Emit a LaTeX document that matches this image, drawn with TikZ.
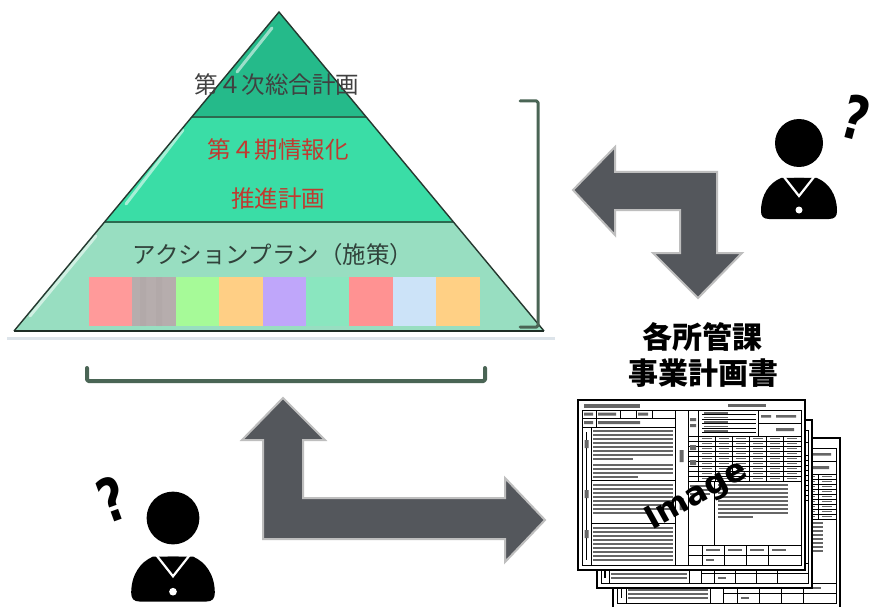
\documentclass[tikz,border=0pt]{standalone}
\usepackage{fontspec}
\usepackage{graphicx}
\newfontfamily\jp{Noto Sans CJK JP}
\newfontfamily\dejab{DejaVu Sans Bold}

\definecolor{pyrtop}{HTML}{25BA8A}
\definecolor{pyrmid}{HTML}{3ADDA6}
\definecolor{pyrbot}{HTML}{98DEC1}
\definecolor{pyredge}{HTML}{25382F}
\definecolor{pyrdiv}{HTML}{2C6A50}
\definecolor{planred}{HTML}{C03A30}
\definecolor{plantxt}{HTML}{31423B}
\definecolor{brk}{HTML}{4A6555}
\definecolor{arrowfill}{HTML}{54575C}
\definecolor{arrowrim}{HTML}{BEBEBE}
\definecolor{underln}{HTML}{DDE4EA}
\definecolor{sqA}{HTML}{FF9A9A}
\definecolor{sqB}{HTML}{B6ADAD}
\definecolor{sqC}{HTML}{A6FA98}
\definecolor{sqD}{HTML}{FFCF85}
\definecolor{sqE}{HTML}{BFA6FA}
\definecolor{sqF}{HTML}{8AE6BF}
\definecolor{sqG}{HTML}{FF9292}
\definecolor{sqH}{HTML}{CCE3F8}
\definecolor{sqI}{HTML}{FFD085}

\tikzset{
  layerlabel/.style={font=\jp\fontsize{23.5}{26}\selectfont, inner sep=0pt},
  deptlabel/.style={font=\jp\bfseries\fontsize{30}{32}\selectfont, inner sep=0pt},
  qmark/.style={font=\dejab\fontsize{60}{60}\selectfont, inner sep=0pt},
  arrowblk/.style={fill=arrowfill, draw=arrowrim, line width=2pt, line join=miter},
  bracketln/.style={draw=brk, line cap=round, line join=round, rounded corners=1.5pt},
  gloss/.style={draw=white, opacity=0.55, line width=3pt, line cap=round},
  gridln/.style={draw=black, line width=0.5pt},
  txtbar/.style={fill=black!60},
  % silhouette of a person: head centred on the pic origin
  pics/person/.style={code={
    \fill[black] (0,0) circle[radius=24];
    \fill[black] (-30,76) -- (30,76) .. controls (36,76) and (38,73) .. (38,68)
      .. controls (38,52) and (30,40) .. (18,35) -- (-18,35)
      .. controls (-30,40) and (-38,52) .. (-38,68)
      .. controls (-38,73) and (-36,76) .. (-30,76) -- cycle;
    \draw[white, line width=2.2pt] (-15,34) -- (0,53) -- (15,34);
    \fill[black] (-5,35) -- (5,35) -- (5,44) -- (0,49) -- (-5,44) -- cycle;
    \fill[white] (0,67) circle[radius=3.5];
  }},
  % one sheet of the plan form, origin at its top-left corner
  pics/formpage/.style={code={
    \fill[white] (0,0) rectangle (227,170);
    \fill[txtbar] (6,3.5) rectangle (62,7.5);
    \fill[txtbar] (150,4) rectangle (188,7);
    \draw[gridln] (4,10) rectangle (223,165);
    \draw[gridln] (97,10) -- (97,165) (110,10) -- (110,165);
    % left header cells
    \draw[gridln] (4,18) -- (97,18) (4,27) -- (97,27) (18,10) -- (18,27)
      (42,10) -- (42,18) (58,10) -- (58,18) (74,10) -- (74,18);
    \fill[txtbar] (6,12.5) rectangle (15,15.5) (20,12.5) rectangle (38,15.5)
      (60,12.5) rectangle (70,15.5) (6,21) rectangle (15,24) (20,21) rectangle (62,24);
    % left text column
    \draw[gridln] (13,27) -- (13,165) (13,80) -- (97,80) (13,123) -- (97,123);
    \draw[line width=1.2pt] (8.5,32) -- (8.5,160);
    \fill[txtbar] (6.5,40) rectangle (10.5,48) (6.5,90) rectangle (10.5,98) (6.5,130) rectangle (10.5,138);
    \foreach \y in {30,34,...,54} \fill[txtbar] (15,\y) rectangle (95,\y+2);
    \fill[txtbar] (15,58) rectangle (55,60);
    \foreach \y in {64,68,72} \fill[txtbar] (15,\y) rectangle (95,\y+2);
    \fill[txtbar] (15,76) rectangle (60,78);
    \foreach \y in {84,88,...,108} \fill[txtbar] (15,\y) rectangle (95,\y+2);
    \fill[txtbar] (15,112) rectangle (70,114);
    \foreach \y in {127,131,...,159} \fill[txtbar] (15,\y) rectangle (95,\y+2);
    % middle narrow column
    \fill[txtbar] (101.5,50) rectangle (105.5,62) (101.5,98) rectangle (105.5,110);
    % right header
    \draw[gridln] (120,10) -- (120,36) (180,10) -- (180,36) (180,23) -- (223,23);
    \foreach \y in {14.5,19,23.5,28,32.5} \draw[gridln] (124,\y) -- (178,\y);
    \foreach \y in {12,16.5,21,25.5,30} \fill[txtbar] (126,\y) rectangle (150,\y+1.6);
    \fill[txtbar] (112,18) rectangle (118,21) (112,24) rectangle (118,27)
      (183,15) rectangle (193,17.5) (198,15) rectangle (218,17.5) (198,28) rectangle (216,31);
    % right grid
    \foreach \y in {36,41,...,81} \draw[gridln] (110,\y) -- (223,\y);
    \foreach \x in {120,137,154,171,188,205} \draw[gridln] (\x,36) -- (\x,81);
    \foreach \x in {120,137,154,171,188,205}
      \foreach \y in {37.8,42.8,...,77.8} \fill[txtbar] (\x+4,\y) rectangle (\x+14,\y+1.5);
    \fill[txtbar] (112,45) rectangle (118,50) (112,60) rectangle (118,65);
    % right text block
    \draw[gridln] (136,81) -- (136,145);
    \foreach \y in {85,89,93} \fill[txtbar] (112,\y) rectangle (132,\y+1.8);
    \foreach \y in {84,88,...,112} \fill[txtbar] (140,\y) rectangle (210,\y+2);
    \fill[txtbar] (140,116) rectangle (175,118);
    % bottom rows
    \draw[gridln] (110,145) -- (223,145) (110,155) -- (223,155);
    \foreach \x in {124,146,168,190} \draw[gridln] (\x,145) -- (\x,165);
    \foreach \x in {128,150,172,194} \fill[txtbar] (\x,148.5) rectangle (\x+14,151);
    \fill[txtbar] (128,158.5) rectangle (136,161);
    \draw[line width=1.6pt] (0,0) rectangle (227,170);
  }}
}

\begin{document}
\begin{tikzpicture}[x=1pt, y=-1pt]
\useasboundingbox (0,0) rectangle (876,607);
\fill[white] (0,0) rectangle (876,607);

% ---------- pyramid ----------
\coordinate (apex) at (279,12);
\coordinate (l1) at (192,117);  \coordinate (r1) at (366,117);
\coordinate (l2) at (105,222);  \coordinate (r2) at (453,222);
\coordinate (l3) at (14,331);   \coordinate (r3) at (544,331);

\fill[pyrtop] (apex) -- (r1) -- (l1) -- cycle;
\fill[pyrmid] (l1) -- (r1) -- (r2) -- (l2) -- cycle;
\fill[pyrbot] (l2) -- (r2) -- (r3) -- (l3) -- cycle;

% action plan colour blocks
\foreach \c [count=\i from 0] in {sqA,sqB,sqC,sqD,sqE,sqF,sqG,sqH,sqI}
  \fill[\c] ({89+\i*43.4},277) rectangle ({89+(\i+1)*43.4},326);
\fill[sqB!85!black, opacity=0.12] (140,277) rectangle (146,326) (156,277) rectangle (162,326);

% glossy streaks along the left faces
\draw[gloss] (272,28) -- (237,72);
\draw[gloss] (183,130) -- (126,204);
\draw[gloss] (96,236) -- (30,316);

\draw[pyrdiv, line width=2.5pt] (l1) -- (r1);
\draw[pyrdiv, line width=2.5pt] (l2) -- (r2);
\draw[pyredge, line width=1.4pt, line join=miter] (l3) -- (apex) -- (r3);
\draw[pyredge!80!black, line width=2pt] (l3) -- (r3);
\draw[underln, line width=3pt] (7,338) -- (555,338);

\node[layerlabel, text=black!75] (lvltop) at (277,85) {第４次総合計画};
\node[layerlabel, text=planred] (lvlmidA) at (278,150) {第４期情報化};
\node[layerlabel, text=planred] (lvlmidB) at (278,199) {推進計画};
\node[layerlabel, text=plantxt] (lvlbot) at (273,255) {アクションプラン（施策）};

% ---------- brackets ----------
\draw[bracketln, line width=3pt] (520,101) -- (538,101) -- (538,327) -- (520,327);
\draw[bracketln, line width=4pt] (87,368) -- (87,381) -- (485,381) -- (485,368);

% ---------- block arrows ----------
\draw[arrowblk] (573,190) -- (615,147) -- (615,172) -- (717,172) -- (717,253)
  -- (742,253) -- (698,298) -- (653,253) -- (680,253) -- (680,210)
  -- (615,210) -- (615,235) -- cycle;
\draw[arrowblk] (283,398) -- (325,440) -- (303,440) -- (303,498) -- (505,498)
  -- (505,478) -- (545,520) -- (505,562) -- (505,539) -- (263,539)
  -- (263,440) -- (242,440) -- cycle;

% ---------- people ----------
\pic at (799,143) {person};
\node[qmark, rotate=-15] (qright) at (856,117) {\scalebox{0.75}[1]{?}};
\pic[scale=1.1] at (173,518) {person};
\node[qmark, rotate=20] (qleft) at (112,499) {\scalebox{0.75}[1]{?}};

% ---------- department plans ----------
\node[deptlabel] (deptA) at (702,337) {各所管課};
\node[deptlabel] (deptB) at (703,373) {事業計画書};

\pic at (613,438) {formpage};
\pic[xscale=0.947, yscale=0.988] at (597,420) {formpage};
\pic at (578,400) {formpage};
\node[font=\dejab\fontsize{32}{32}\selectfont, rotate=29, inner sep=0pt] (imgmark) at (697,496) {Image};
\end{tikzpicture}
\end{document}
